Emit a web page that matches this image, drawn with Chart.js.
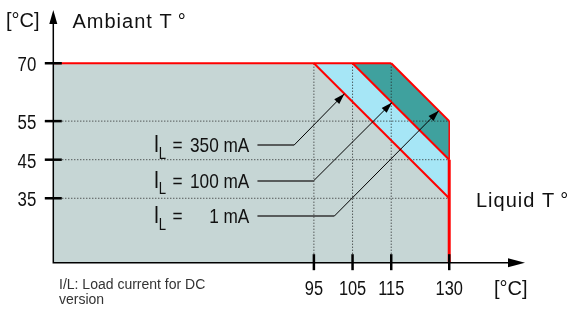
<!DOCTYPE html>
<html>
<head>
<meta charset="utf-8">
<script src="https://cdn.jsdelivr.net/npm/chart.js@4.4.1/dist/chart.umd.min.js"></script>
<style>
  html, body { margin: 0; padding: 0; background: #fff; }
</style>
</head>
<body>
<canvas id="derating" width="568" height="311"></canvas>
<script>
// axes run a little past the last tick, up to the arrow heads
const xMin = 27.6, xMax = 149.6
const yMin = 18.3, yMax = 83.8

const xTicks = [95, 105, 115, 130]
const yTicks = [35, 45, 55, 70]

// one derating curve per load current: flat at maxAmbient up to kneeLiquid, then down to (maxLiquid, endAmbient)
const currents = ['350 mA', '100 mA', '1 mA']
const kneeLiquid = [95, 105, 115]
const endAmbient = [35, 45, 55]
const maxAmbient = 70
const maxLiquid = 130

// label rows for the arrows (°C units)
const rowAmbient = [48.8, 39.5, 30.4]
const arrowKnee = [89.9, 94.9, 100.3]
const arrowTip = [102.9, 115.2, 127.3]

const bandColors = ['#c6d6d5', '#a6e6f6', '#3fa19e']
const red = '#ff0000'
const regular = "'Liberation Sans', Arial, sans-serif"

const curveAt = (i, liquid) => maxAmbient - (liquid - kneeLiquid[i]) * (maxAmbient - endAmbient[i]) / (maxLiquid - kneeLiquid[i])

const datasets = []

// filled bands, gray one on top
kneeLiquid.forEach((knee, i) => {
  datasets.push({
    data: [{x: xMin, y: maxAmbient}, {x: knee, y: maxAmbient}, {x: maxLiquid, y: endAmbient[i]}, {x: maxLiquid, y: yMin}],
    fill: 'start',
    backgroundColor: bandColors[i],
    borderWidth: 0,
    pointRadius: 0
  })
})

// red limit lines
const redLine = (pts, w) => datasets.push({data: pts, borderColor: red, borderWidth: w, pointRadius: 0, fill: false})
redLine([{x: xMin, y: maxAmbient}, {x: kneeLiquid[2], y: maxAmbient}], 2)
kneeLiquid.forEach((knee, i) => redLine([{x: knee, y: maxAmbient}, {x: maxLiquid, y: endAmbient[i]}], 2))
redLine([{x: maxLiquid, y: endAmbient[2]}, {x: maxLiquid, y: endAmbient[1]}], 1.5)
redLine([{x: maxLiquid, y: endAmbient[1]}, {x: maxLiquid, y: yMin}], 3)

// dotted guide lines
const dotted = pts => datasets.push({data: pts, borderColor: '#222', borderWidth: 1, borderDash: [1, 2], pointRadius: 0, fill: false})
yTicks.filter(v => v < maxAmbient).forEach(v => dotted([{x: xMin, y: v}, {x: maxLiquid, y: v}]))
xTicks.filter(v => v < maxLiquid).forEach(v => dotted([{x: v, y: yMin}, {x: v, y: maxAmbient}]))

function arrowHead(ctx, x0, y0, x1, y1, len, half) {
  const a = Math.atan2(y1 - y0, x1 - x0)
  ctx.beginPath()
  ctx.moveTo(x1, y1)
  ctx.lineTo(x1 - len * Math.cos(a) + half * Math.sin(a), y1 - len * Math.sin(a) - half * Math.cos(a))
  ctx.lineTo(x1 - len * Math.cos(a) - half * Math.sin(a), y1 - len * Math.sin(a) + half * Math.cos(a))
  ctx.closePath()
  ctx.fill()
}

// no narrow font installed, so squeeze Liberation Sans horizontally
function narrowText(ctx, text, x, y, size, align) {
  ctx.save()
  ctx.translate(x, y)
  ctx.scale(0.82, 1)
  ctx.font = size + 'px ' + regular
  ctx.textAlign = align
  ctx.textBaseline = 'alphabetic'
  ctx.fillText(text, 0, 0)
  ctx.restore()
}

const decorations = {
  id: 'decorations',
  afterDatasetsDraw(chart) {
    const {ctx, scales: {x, y}} = chart
    const X = v => x.getPixelForValue(v)
    const Y = v => y.getPixelForValue(v)
    ctx.save()
    ctx.strokeStyle = '#000'
    ctx.fillStyle = '#000'

    // axes with arrows
    ctx.lineWidth = 1.5
    ctx.beginPath()
    ctx.moveTo(X(xMin), Y(yMax) + 10)
    ctx.lineTo(X(xMin), Y(yMin))
    ctx.lineTo(X(xMax) - 10, Y(yMin))
    ctx.stroke()
    arrowHead(ctx, X(xMin), Y(yMin), X(xMin), Y(yMax), 14, 4)
    arrowHead(ctx, X(xMin), Y(yMin), X(xMax), Y(yMin), 17, 4.5)

    // tick marks across the axes, with their labels
    ctx.lineWidth = 2.5
    xTicks.forEach(v => {
      ctx.beginPath(); ctx.moveTo(X(v), Y(yMin) - 8.5); ctx.lineTo(X(v), Y(yMin) + 7.5); ctx.stroke()
    })
    yTicks.forEach(v => {
      ctx.beginPath(); ctx.moveTo(X(xMin) - 8.5, Y(v)); ctx.lineTo(X(xMin) + 8.5, Y(v)); ctx.stroke()
    })
    ctx.fillStyle = '#111'
    xTicks.forEach(v => narrowText(ctx, String(v), X(v), Y(yMin) + 32.5, 20, 'center'))
    yTicks.forEach(v => narrowText(ctx, String(v), X(xMin) - 17, Y(v) + 8, 20.5, 'right'))

    // load current callouts
    currents.forEach((label, i) => {
      const ry = Y(rowAmbient[i])
      const kx = X(arrowKnee[i])
      const tx = X(arrowTip[i]), ty = Y(curveAt(i, arrowTip[i]))
      ctx.strokeStyle = '#333'
      ctx.lineWidth = 1.5
      ctx.beginPath(); ctx.moveTo(X(80.4), ry); ctx.lineTo(kx, ry); ctx.stroke()
      ctx.strokeStyle = '#000'
      ctx.fillStyle = '#000'
      ctx.lineWidth = 1
      ctx.beginPath(); ctx.moveTo(kx, ry); ctx.lineTo(tx, ty); ctx.stroke()
      arrowHead(ctx, kx, ry, tx, ty, 11, 3.5)

      ctx.fillStyle = '#111'
      narrowText(ctx, 'I', X(53.6), ry + 7, 24, 'left')
      narrowText(ctx, 'L', X(53.6) + 5, ry + 13.5, 16, 'left')
      narrowText(ctx, '=', X(58.4), ry + 7, 21, 'left')
      narrowText(ctx, label, X(78.3), ry + 7, 21, 'right')
    })

    // axis titles and note
    ctx.fillStyle = '#111'
    ctx.textAlign = 'left'
    ctx.textBaseline = 'alphabetic'
    ctx.font = '20px ' + regular
    ctx.fillText('[°C]', 6, 27)
    ctx.fillText('[°C]', 494, 295)
    ctx.letterSpacing = '1px'
    ctx.fillText('Ambiant T\u2009°', 72.5, 27.5)
    ctx.fillText('Liquid T\u2009°', 476, 206.5)
    ctx.letterSpacing = '0px'
    ctx.fillStyle = '#333'
    ctx.font = '14px ' + regular
    ctx.fillText('I/L: Load current for DC', 59, 289)
    ctx.fillText('version', 59, 304)
    ctx.restore()
  }
}

new Chart(document.getElementById('derating'), {
  type: 'line',
  data: {datasets},
  plugins: [decorations],
  options: {
    responsive: false,
    animation: false,
    devicePixelRatio: 1,
    layout: {padding: {left: 0, right: 43, top: 10, bottom: 0}},
    plugins: {
      legend: {display: false},
      tooltip: {enabled: false},
      filler: {drawTime: 'beforeDatasetsDraw'}
    },
    scales: {
      x: {
        type: 'linear',
        min: xMin,
        max: xMax,
        afterBuildTicks: s => { s.ticks = xTicks.map(v => ({value: v})) },
        afterFit: s => { s.height = 48.3; s.paddingLeft = 0; s.paddingRight = 0 },
        grid: {display: false, drawTicks: false},
        border: {display: false},
        ticks: {display: false}
      },
      y: {
        type: 'linear',
        min: yMin,
        max: yMax,
        afterBuildTicks: s => { s.ticks = yTicks.map(v => ({value: v})) },
        afterFit: s => { s.width = 53.3; s.paddingTop = 0; s.paddingBottom = 0 },
        grid: {display: false, drawTicks: false},
        border: {display: false},
        ticks: {display: false}
      }
    }
  }
})
</script>
</body>
</html>
